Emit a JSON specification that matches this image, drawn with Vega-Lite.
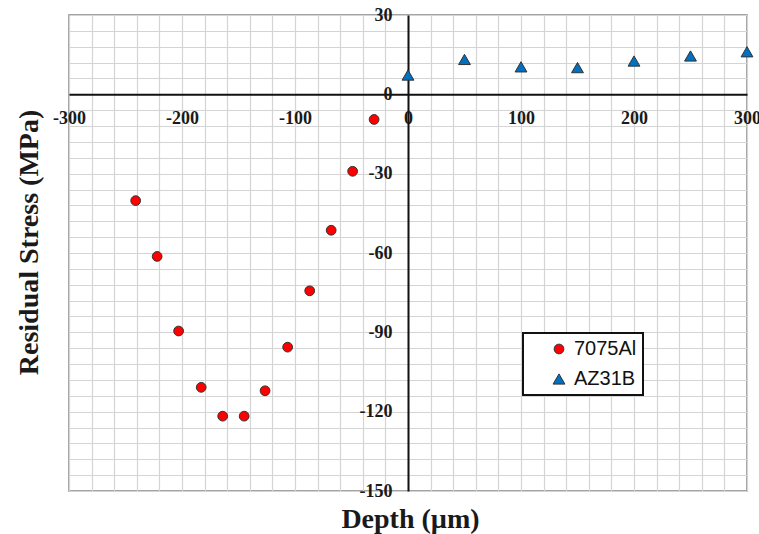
{
  "$schema": "https://vega.github.io/schema/vega-lite/v6.json",
  "width": 678,
  "height": 476,
  "autosize": {"type": "none"},
  "padding": {"left": 69, "top": 15, "right": 12, "bottom": 43},
  "background": "white",
  "config": {
    "view": {"stroke": "#858585", "strokeWidth": 1.5},
    "axis": {
      "grid": true,
      "gridColor": "#d4d4d4",
      "gridWidth": 1.2,
      "ticks": false,
      "domainColor": "#111111",
      "domainWidth": 2,
      "labelFont": "Liberation Serif",
      "labelFontWeight": "bold",
      "labelFontSize": 18,
      "labelColor": "#1a1a1a",
      "labelOverlap": false,
      "labelBound": false,
      "labelFlush": false,
      "titleFont": "Liberation Serif",
      "titleFontWeight": "bold",
      "titleFontSize": 28,
      "titleColor": "#1a1a1a",
      "titleBaseline": "alphabetic"
    },
    "legend": {
      "orient": "none",
      "legendX": 454,
      "legendY": 318,
      "strokeColor": "#111111",
      "strokeWidth": 2,
      "fillColor": "white",
      "padding": 6,
      "rowPadding": 10,
      "symbolOffset": 20,
      "labelOffset": 5,
      "labelFont": "Liberation Sans",
      "labelFontSize": 20,
      "labelColor": "#111111",
      "symbolStrokeColor": "#333333",
      "symbolStrokeWidth": 1
    }
  },
  "data": {
    "values": [
      {"depth": -241, "stress": -40.2, "alloy": "7075Al"},
      {"depth": -222, "stress": -61.3, "alloy": "7075Al"},
      {"depth": -203, "stress": -89.5, "alloy": "7075Al"},
      {"depth": -183, "stress": -110.8, "alloy": "7075Al"},
      {"depth": -164, "stress": -121.7, "alloy": "7075Al"},
      {"depth": -145, "stress": -121.7, "alloy": "7075Al"},
      {"depth": -126.5, "stress": -112.1, "alloy": "7075Al"},
      {"depth": -106.5, "stress": -95.6, "alloy": "7075Al"},
      {"depth": -87, "stress": -74.3, "alloy": "7075Al"},
      {"depth": -68, "stress": -51.4, "alloy": "7075Al"},
      {"depth": -49, "stress": -29.1, "alloy": "7075Al"},
      {"depth": -30, "stress": -9.5, "alloy": "7075Al"},
      {"depth": 0, "stress": 7.3, "alloy": "AZ31B"},
      {"depth": 50, "stress": 13.2, "alloy": "AZ31B"},
      {"depth": 100, "stress": 10.4, "alloy": "AZ31B"},
      {"depth": 150, "stress": 10.1, "alloy": "AZ31B"},
      {"depth": 200, "stress": 12.6, "alloy": "AZ31B"},
      {"depth": 250, "stress": 14.5, "alloy": "AZ31B"},
      {"depth": 300, "stress": 16.1, "alloy": "AZ31B"}
    ]
  },
  "mark": {"type": "point", "filled": true, "opacity": 1, "stroke": "#333333", "strokeWidth": 1, "clip": false},
  "encoding": {
    "x": {
      "field": "depth",
      "type": "quantitative",
      "scale": {"domain": [-300, 300], "nice": false, "zero": false},
      "axis": {
        "title": "Depth (µm)",
        "orient": "bottom",
        "offset": -396.67,
        "values": [-300,-280,-260,-240,-220,-200,-180,-160,-140,-120,-100,-80,-60,-40,-20,0,20,40,60,80,100,120,140,160,180,200,220,240,260,280,300],
        "labelExpr": "datum.value % 100 === 0 ? toString(datum.value) : ''",
        "labelPadding": 15,
        "titleX": 341,
        "titleY": 433,
        "titleAnchor": "middle"
      }
    },
    "y": {
      "field": "stress",
      "type": "quantitative",
      "scale": {"domain": [-150, 30], "nice": false, "zero": false},
      "axis": {
        "title": "Residual Stress (MPa)",
        "orient": "left",
        "offset": -339,
        "values": [-150,-144,-138,-132,-126,-120,-114,-108,-102,-96,-90,-84,-78,-72,-66,-60,-54,-48,-42,-36,-30,-24,-18,-12,-6,0,6,12,18,24,30],
        "labelExpr": "datum.value % 30 === 0 ? toString(datum.value) : ''",
        "labelPadding": 16,
        "titleX": -371,
        "titleY": 227,
        "titleAnchor": "middle"
      }
    },
    "color": {
      "field": "alloy",
      "type": "nominal",
      "scale": {"domain": ["7075Al", "AZ31B"], "range": ["#ff0000", "#0070c0"]},
      "legend": {"title": null, "labelExpr": "datum.label + '        '"}
    },
    "shape": {
      "field": "alloy",
      "type": "nominal",
      "scale": {"domain": ["7075Al", "AZ31B"], "range": ["circle", "triangle-up"]},
      "legend": {"title": null, "labelExpr": "datum.label + '        '"}
    },
    "size": {
      "field": "alloy",
      "type": "nominal",
      "scale": {"domain": ["7075Al", "AZ31B"], "range": [95, 140]},
      "legend": {"title": null, "labelExpr": "datum.label + '        '"}
    }
  }
}
